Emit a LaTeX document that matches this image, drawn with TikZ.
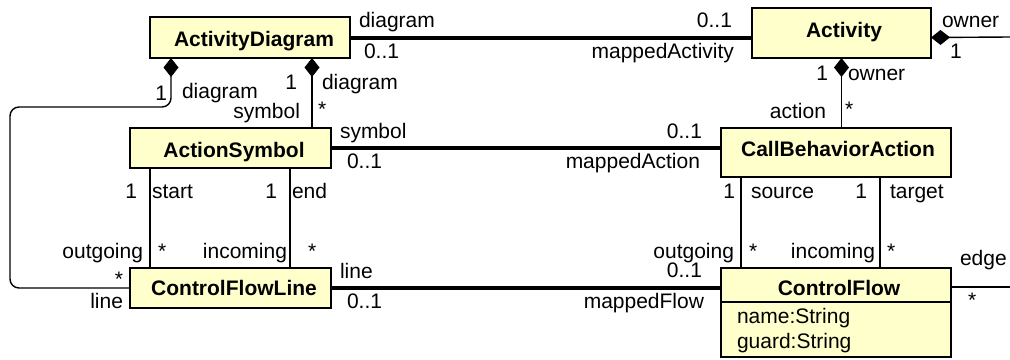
\documentclass[tikz,border=0pt]{standalone}
\usepackage{fontspec}
\setmainfont{Liberation Sans}
\usetikzlibrary{arrows.meta}
\definecolor{classfill}{RGB}{255,255,204}
\begin{document}
\begin{tikzpicture}[x=1pt,y=-1pt,
  every node/.style={inner sep=0pt, outer sep=0pt},
  cls/.style={draw, line width=2pt, fill=classfill},
  title/.style={anchor=base, font=\fontsize{21}{24}\selectfont\bfseries},
  lw/.style={anchor=base west, font=\fontsize{21}{24}\selectfont},
  le/.style={anchor=base east, font=\fontsize{21}{24}\selectfont},
  assoc/.style={line width=4pt},
  link/.style={line width=1.4pt},
  comp/.style={line width=1.4pt, {Diamond[length=19pt,width=15pt]}-}]
\useasboundingbox (0,0) rectangle (1010,359);

% class boxes
\node[cls, minimum width=200pt, minimum height=41pt] (ad)  at (250,37.5) {};
\node[cls, minimum width=179pt, minimum height=50pt] (act) at (841.5,33) {};
\node[cls, minimum width=201pt, minimum height=40pt] (as)  at (230.5,148) {};
\node[cls, minimum width=230pt, minimum height=49pt] (cba) at (836,152.5) {};
\node[cls, minimum width=201pt, minimum height=40pt] (cfl) at (230.5,288) {};
\node[cls, minimum width=230pt, minimum height=89pt] (cf)  at (836,312.5) {};
\draw[line width=2pt] ([yshift=-34pt]cf.north west) -- ([yshift=-34pt]cf.north east);

% class names and attributes
\node[title] (adT)  at (254,46)  {ActivityDiagram};
\node[title] (actT) at (844,37)  {Activity};
\node[title] (asT)  at (234,157) {ActionSymbol};
\node[title] (cbaT) at (838,156) {CallBehaviorAction};
\node[title] (cflT) at (234,295) {ControlFlowLine};
\node[title] (cfT)  at (839,295) {ControlFlow};
\node[lw] (cfA1) at (737,323) {name:String};
\node[lw] (cfA2) at (737,348) {guard:String};

% mapping associations
\draw[assoc] (ad.east) -- (ad.east -| act.west);
\draw[assoc] (as.east) -- (as.east -| cba.west);
\draw[assoc] (cfl.east) -- (cfl.east -| cf.west);

% compositions and plain associations
\coordinate (actOut) at (1010,37);
\coordinate (cfOut) at (1010,287);
\draw[comp] (ad.east -| act.east) -- (actOut);
\draw[comp] (act.south) -- (act.south |- cba.north);
\draw[comp] ([xshift=62pt]ad.south) -- ([xshift=62pt]ad.south |- as.north);
\draw[comp, rounded corners=9pt] ([xshift=-79pt]ad.south) |- (10,107) |- (cfl.west);
\draw[link] ([xshift=-80.5pt]as.south) -- ([xshift=-80.5pt]as.south |- cfl.north);
\draw[link] ([xshift=59.5pt]as.south) -- ([xshift=59.5pt]as.south |- cfl.north);
\draw[link] ([xshift=-95pt]cba.south) -- ([xshift=-95pt]cba.south |- cf.north);
\draw[link] ([xshift=44pt]cba.south) -- ([xshift=44pt]cba.south |- cf.north);
\draw[link] (cfOut -| cf.east) -- (cfOut);

% role names and multiplicities
\foreach \s/\x/\y/\t [count=\i] in {
  lw/359/27/diagram, lw/364/58/0..1, le/732/27/0..1, le/734/58/mappedActivity,
  lw/942/27/owner, lw/950/58/1, le/828/80/1, lw/848/80/owner,
  le/826/118/action, lw/845/116/*,
  le/167/100/1, lw/182/98/diagram, le/297/89/1, lw/322/89/diagram,
  le/300/118/symbol, lw/318/116/*,
  lw/340/138/symbol, lw/347/168/0..1, le/702/138/0..1, le/700/168/mappedAction,
  le/137/198/1, lw/152/198/start, le/277/198/1, lw/292/198/end,
  le/735/198/1, lw/751/198/source, le/867/198/1, lw/890/198/target,
  le/143/258/outgoing, lw/158/258/*, le/287/258/incoming, lw/308/258/*,
  le/123/286/*, le/123/308/line, lw/340/278/line, lw/347/308/0..1,
  le/734/258/outgoing, lw/749/258/*, le/875/258/incoming, lw/887/258/*,
  le/702/277/0..1, le/704/308/mappedFlow, lw/960/265/edge, lw/968/307/*}
  {\node[\s] (lab\i) at (\x,\y) {\t};}
\end{tikzpicture}
\end{document}
